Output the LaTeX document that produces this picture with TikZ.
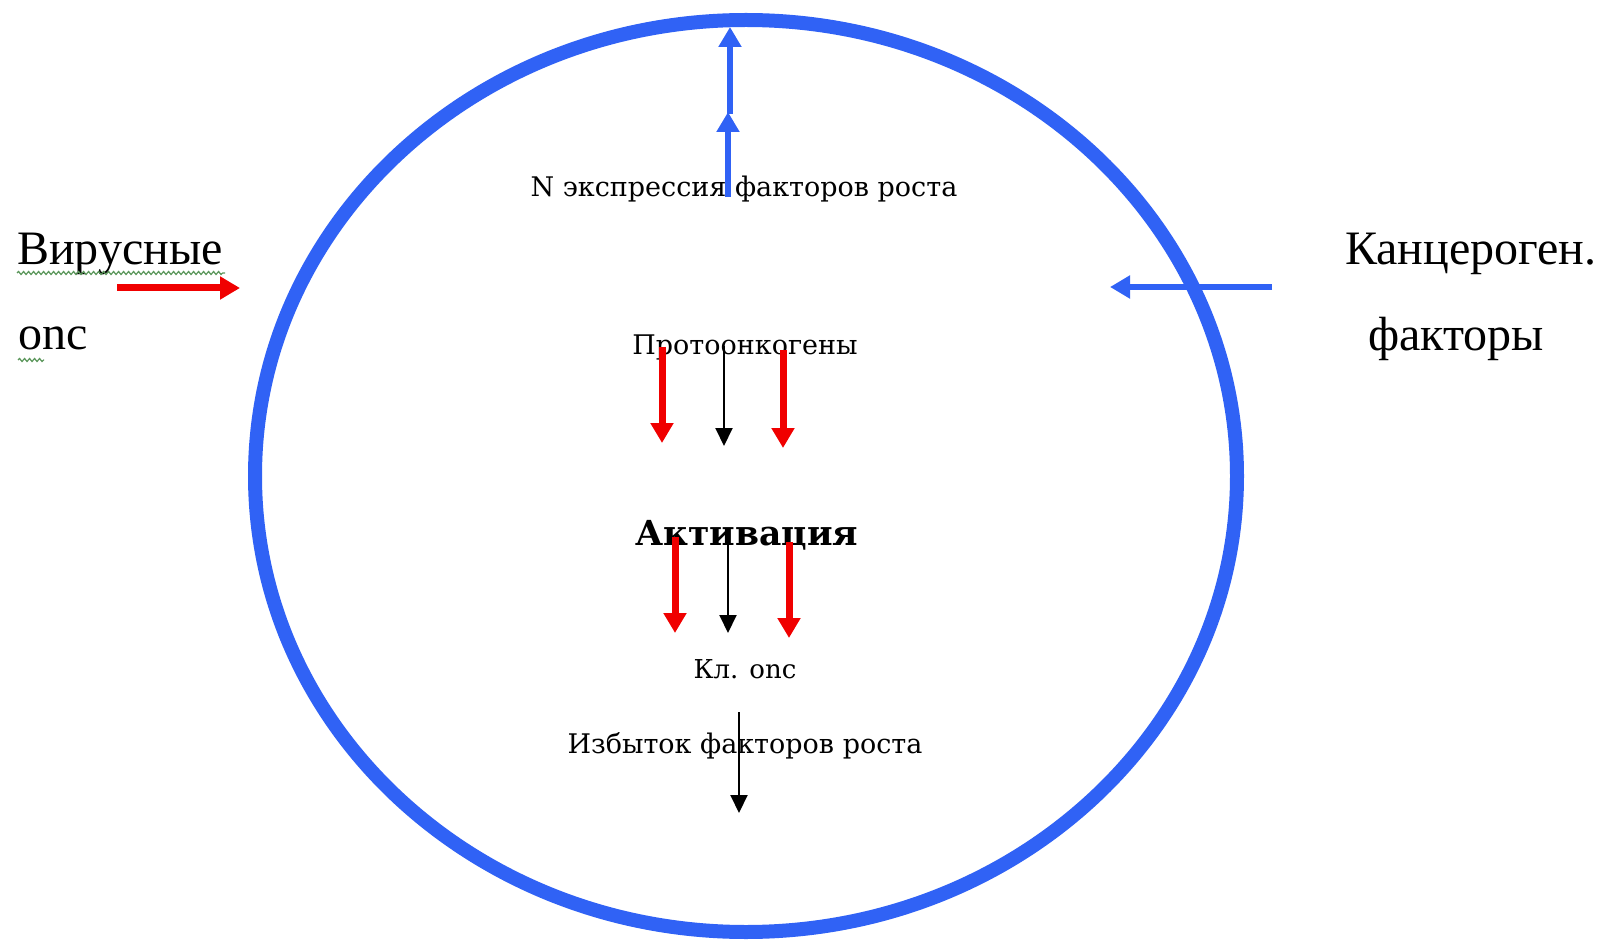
\documentclass[tikz,border=0pt]{standalone}
\usepackage{fontspec}
\setmainfont{Liberation Serif}
\newfontfamily\slab{DejaVu Serif}
\usetikzlibrary{arrows.meta,decorations.pathmorphing}
\definecolor{cellblue}{RGB}{48,98,245}
\definecolor{arrred}{RGB}{240,0,0}
\definecolor{spellgreen}{RGB}{90,150,90}
\begin{document}
\begin{tikzpicture}[x=1pt,y=-1pt,
  big/.style={font=\fontsize{48}{52}\selectfont, inner sep=0pt},
  small/.style={font=\slab\fontsize{27}{31}\selectfont, inner sep=0pt},
  smaller/.style={font=\slab\fontsize{26}{30}\selectfont, inner sep=0pt},
  bold/.style={font=\slab\bfseries\fontsize{34.5}{38}\selectfont, inner sep=0pt},
  redarr/.style={draw=arrred, line width=7pt, -{Triangle[length=20pt,width=22pt]}},
  bluearr/.style={draw=cellblue, line width=5.5pt, -{Triangle[length=20pt,width=22pt]}},
  blackarr/.style={draw=black, line width=2pt, -{Triangle[length=18pt,width=17pt]}},
  spell/.style={draw=spellgreen, line width=1.2pt, decorate, decoration={snake, amplitude=1.5pt, segment length=5pt}}]
\useasboundingbox (0,0) rectangle (1599,941);
\fill[white] (0,0) rectangle (1599,941);
% cell
\draw[cellblue, line width=14pt] (746,476) ellipse [x radius=491, y radius=456];
% outer labels
\node[big, anchor=base west] (vir) at (17,265) {Вирусные};
\node[big, anchor=base west] (onc) at (18,349) {onc};
\node[big, anchor=base west] (kanc) at (1345,265) {Канцероген.};
\node[big, anchor=base west] (fakt) at (1368,351) {факторы};
\draw[spell] (17,273) -- (225,273);
\draw[spell] (18,360) -- (44,360);
% inner labels
\node[small, anchor=base] (nexp) at (744,197) {N экспрессия факторов роста};
\node[small, anchor=base] (proto) at (745,355) {Протоонкогены};
\node[bold, anchor=base] (akt) at (747,545) {Активация};
\node[smaller, anchor=base] (kl) at (745,678) {Кл. onc};
\node[small, anchor=base] (izb) at (745,753) {Избыток факторов роста};
% coordinates
\coordinate (virA) at (117,288);
\coordinate (virB) at (240,288);
\coordinate (kanA) at (1272,287);
\coordinate (kanB) at (1110,287);
\coordinate (up1a) at (728,197);
\coordinate (up1b) at (728,112);
\coordinate (up2a) at (730,114);
\coordinate (up2b) at (730,27);
% arrows
\draw[redarr] (virA) -- (virB);
\draw[bluearr] (kanA) -- (kanB);
\draw[bluearr] (up1a) -- (up1b);
\draw[bluearr] (up2a) -- (up2b);
\draw[redarr] (662,347) -- (662,443);
\draw[blackarr] (724,346) -- (724,446);
\draw[redarr] (783,350) -- (783,448);
\draw[redarr] (675,537) -- (675,633);
\draw[blackarr] (728,542) -- (728,633);
\draw[redarr] (789,542) -- (789,638);
\draw[blackarr] (739,712) -- (739,813);
\end{tikzpicture}
\end{document}
